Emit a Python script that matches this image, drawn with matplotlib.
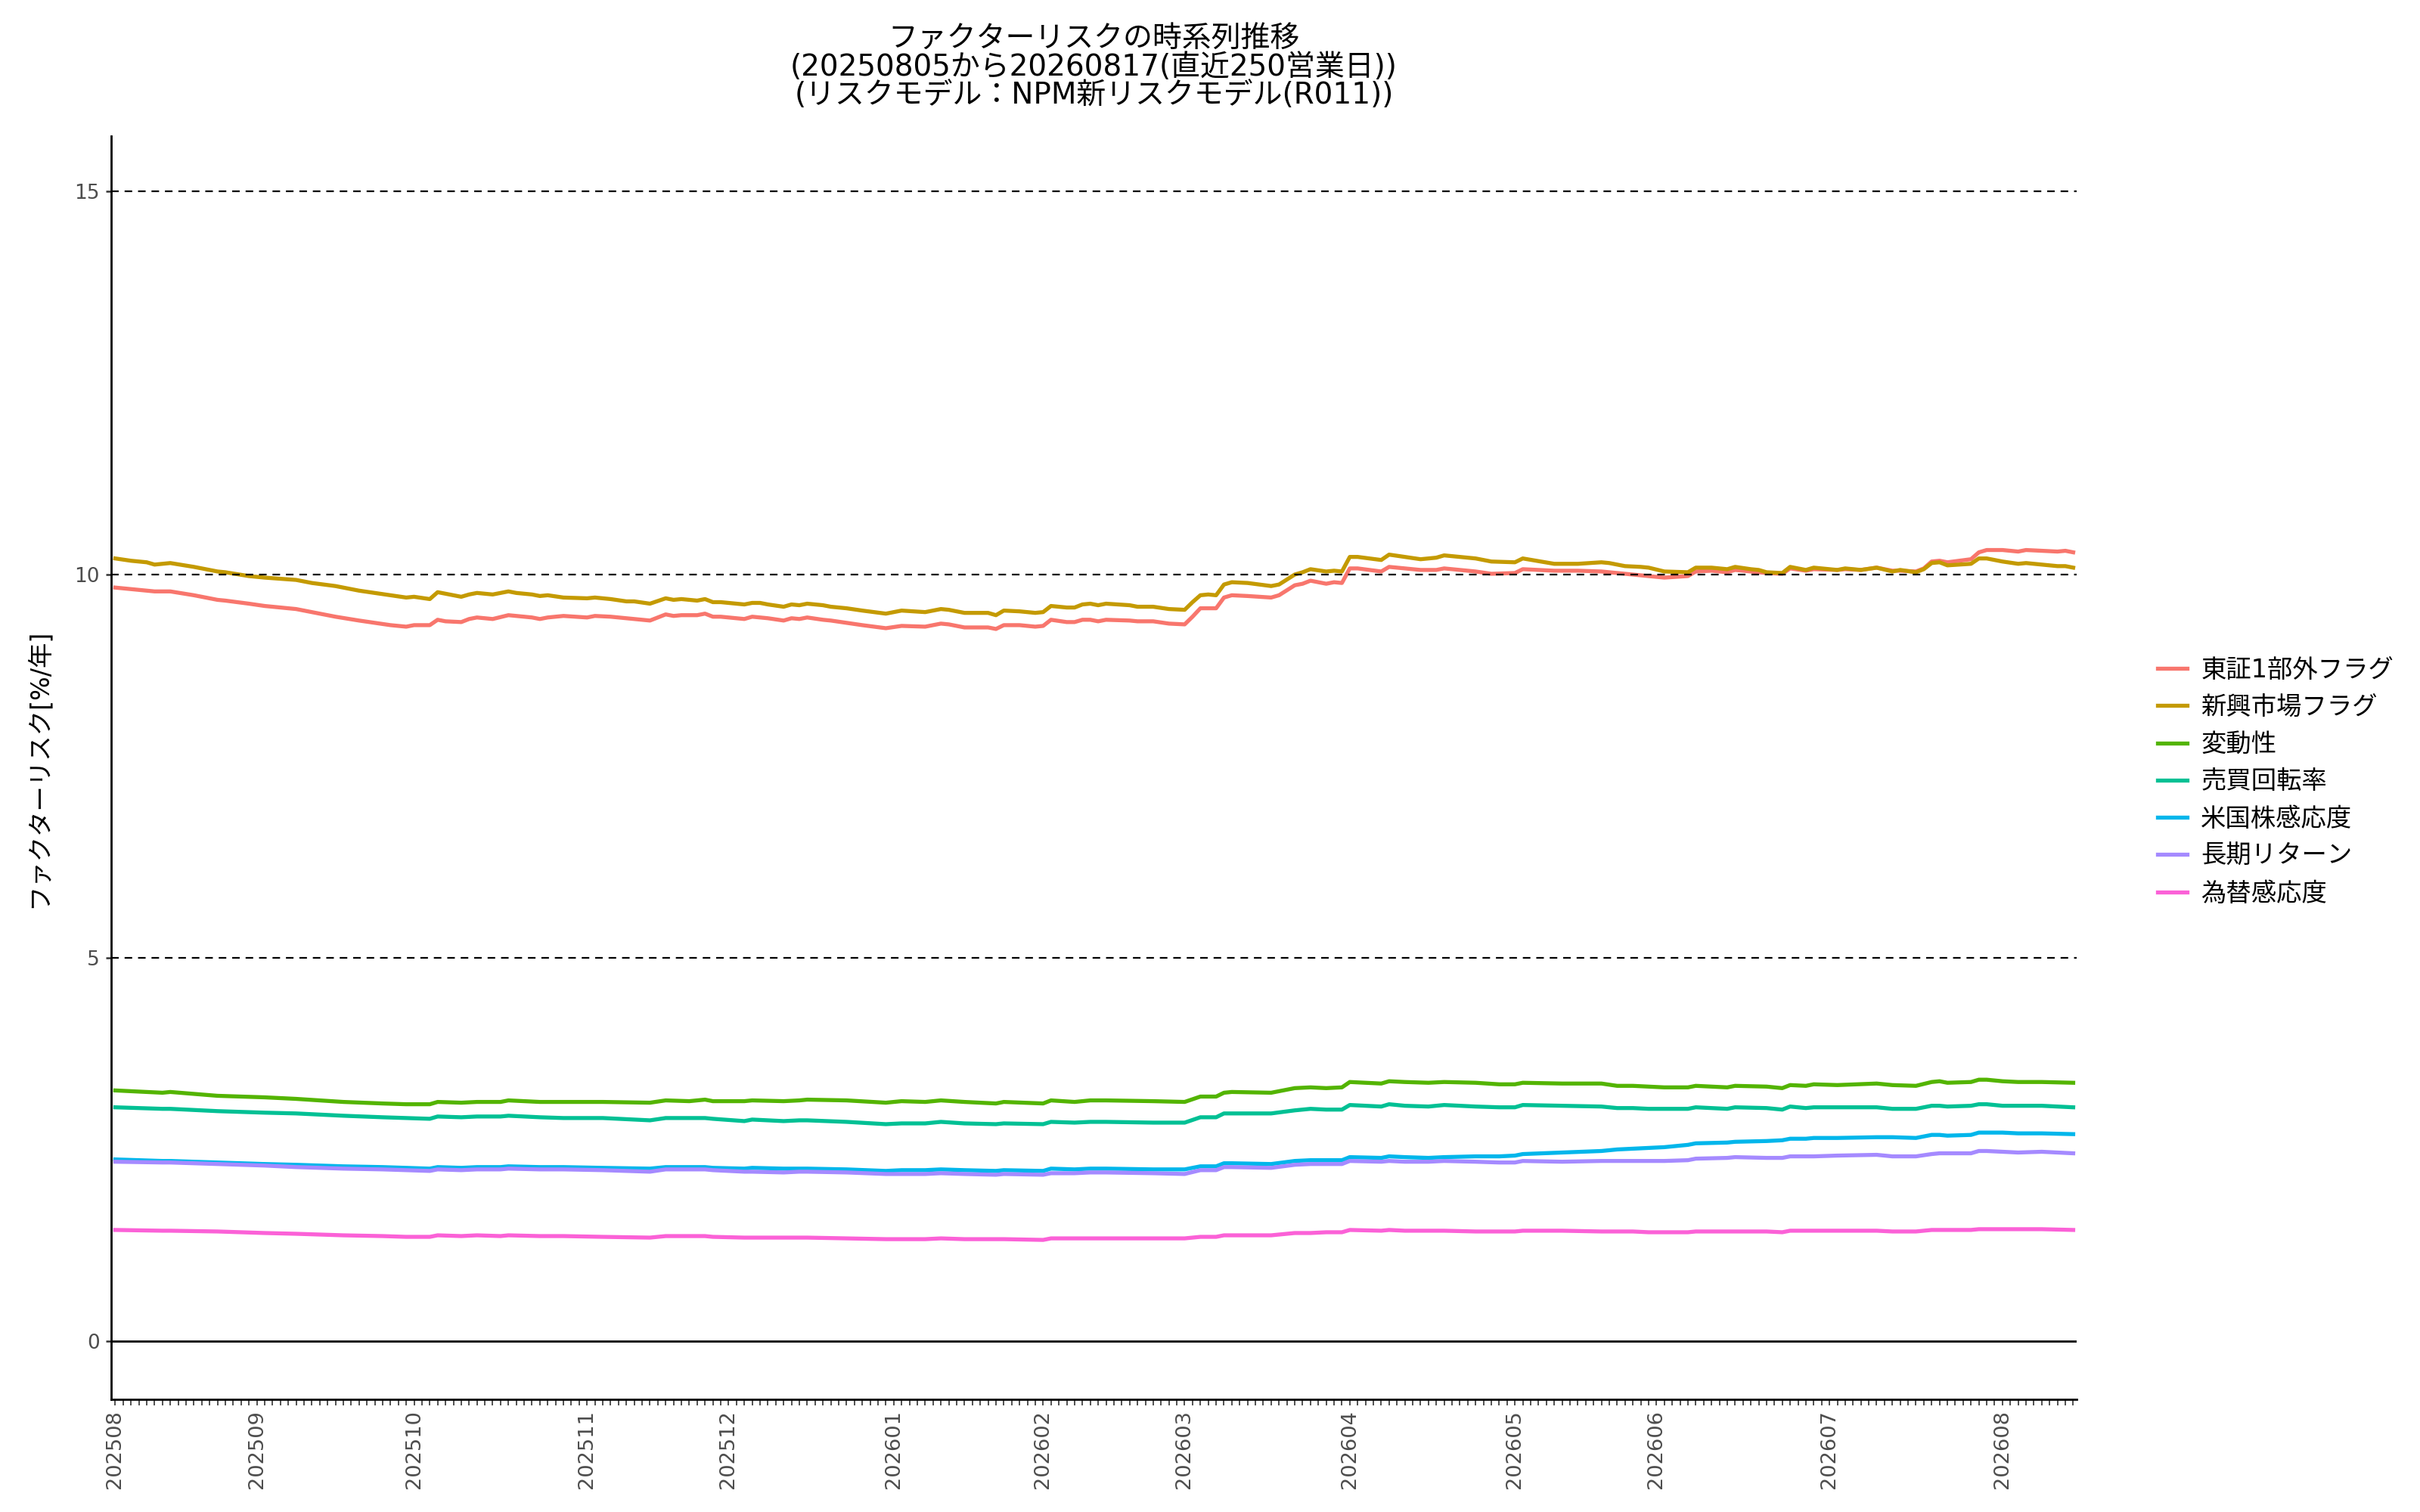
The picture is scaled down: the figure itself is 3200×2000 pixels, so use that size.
import matplotlib
matplotlib.use("Agg")
import matplotlib.pyplot as plt

plt.rcParams['font.family'] = ['DejaVu Sans', 'Noto Sans CJK JP']

# x axis = business day number (250 days), labels at first day of each month
n_days = 250
month_labels = ["202508", "202509", "202510", "202511", "202512", "202601", "202602",
                "202603", "202604", "202605", "202606", "202607", "202608"]
month_start = [0, 18, 38, 60, 78, 99, 118, 136, 157, 178, 196, 218, 240]

names = ["東証1部外フラグ", "新興市場フラグ", "変動性", "売買回転率",
         "米国株感応度", "長期リターン", "為替感応度"]
colors = ["#F8766D", "#C49A00", "#53B400", "#00C094", "#00B6EB", "#A58AFF", "#FB61D7"]

# upper two series
top_idx = [0, 2, 4, 5, 7, 10, 13, 14, 17, 19,
           23, 25, 28, 31, 33, 35, 37, 38, 40, 41,
           42, 44, 45, 46, 48, 50, 51, 53, 54, 55,
           57, 60, 61, 63, 65, 66, 68, 70, 71, 72,
           74, 75, 76, 77, 80, 81, 82, 83, 85, 86,
           87, 88, 90, 91, 93, 95, 98, 100, 103, 105,
           106, 108, 111, 112, 113, 115, 117, 118, 119, 121,
           122, 123, 124, 125, 126, 129, 130, 132, 134, 136,
           137, 138, 139, 140, 141, 142, 144, 147, 148, 150,
           151, 152, 154, 155, 156, 157, 158, 161, 162, 164,
           166, 168, 169, 173, 175, 178, 179, 183, 186, 189,
           190, 192, 194, 195, 197, 200, 201, 203, 205, 206,
           208, 209, 210, 212, 213, 215, 216, 219, 220, 222,
           224, 226, 227, 229, 230, 231, 232, 233, 236, 237,
           238, 240, 242, 243, 245, 247, 248, 249]
tosho_gai = [9.83, 9.81, 9.79, 9.78, 9.78, 9.73, 9.67, 9.66, 9.62, 9.59,
             9.55, 9.51, 9.45, 9.40, 9.37, 9.34, 9.32, 9.34, 9.34, 9.41,
             9.39, 9.38, 9.42, 9.44, 9.42, 9.47, 9.46, 9.44, 9.42, 9.44,
             9.46, 9.44, 9.46, 9.45, 9.43, 9.42, 9.40, 9.48, 9.46, 9.47,
             9.47, 9.49, 9.45, 9.45, 9.42, 9.45, 9.44, 9.43, 9.40, 9.43,
             9.42, 9.44, 9.41, 9.40, 9.37, 9.34, 9.30, 9.33, 9.32, 9.36,
             9.35, 9.31, 9.31, 9.29, 9.34, 9.34, 9.32, 9.33, 9.41, 9.38,
             9.38, 9.41, 9.41, 9.39, 9.41, 9.40, 9.39, 9.39, 9.36, 9.35,
             9.45, 9.56, 9.56, 9.56, 9.70, 9.73, 9.72, 9.70, 9.73, 9.86,
             9.88, 9.92, 9.88, 9.90, 9.89, 10.08, 10.08, 10.04, 10.10, 10.08,
             10.06, 10.06, 10.08, 10.04, 10.01, 10.02, 10.07, 10.05, 10.05, 10.04,
             10.03, 10.01, 9.99, 9.98, 9.96, 9.98, 10.04, 10.05, 10.03, 10.06,
             10.04, 10.03, 10.02, 10.01, 10.08, 10.05, 10.07, 10.06, 10.07, 10.06,
             10.09, 10.05, 10.05, 10.04, 10.08, 10.17, 10.18, 10.16, 10.20, 10.29,
             10.32, 10.32, 10.30, 10.32, 10.31, 10.30, 10.31, 10.29]
shinko = [10.21, 10.18, 10.16, 10.13, 10.15, 10.10, 10.04, 10.03, 9.98, 9.96,
          9.93, 9.89, 9.85, 9.79, 9.76, 9.73, 9.70, 9.71, 9.68, 9.77,
          9.75, 9.71, 9.74, 9.76, 9.74, 9.78, 9.76, 9.74, 9.72, 9.73,
          9.70, 9.69, 9.70, 9.68, 9.65, 9.65, 9.62, 9.69, 9.67, 9.68,
          9.66, 9.68, 9.64, 9.64, 9.61, 9.63, 9.63, 9.61, 9.58, 9.61,
          9.60, 9.62, 9.60, 9.58, 9.56, 9.53, 9.49, 9.53, 9.51, 9.55,
          9.54, 9.50, 9.50, 9.47, 9.53, 9.52, 9.50, 9.51, 9.59, 9.57,
          9.57, 9.61, 9.62, 9.60, 9.62, 9.60, 9.58, 9.58, 9.55, 9.54,
          9.64, 9.73, 9.74, 9.73, 9.87, 9.90, 9.89, 9.85, 9.87, 10.00,
          10.03, 10.07, 10.04, 10.05, 10.04, 10.23, 10.23, 10.19, 10.26, 10.23,
          10.20, 10.22, 10.25, 10.21, 10.17, 10.16, 10.21, 10.14, 10.14, 10.16,
          10.15, 10.11, 10.10, 10.09, 10.04, 10.03, 10.09, 10.09, 10.07, 10.10,
          10.07, 10.06, 10.03, 10.02, 10.10, 10.06, 10.09, 10.06, 10.08, 10.06,
          10.09, 10.04, 10.06, 10.03, 10.07, 10.15, 10.16, 10.12, 10.14, 10.21,
          10.21, 10.17, 10.14, 10.15, 10.13, 10.11, 10.11, 10.09]

# lower five series
low_idx = [0, 6, 7, 13, 19, 23, 29, 34, 37, 40,
           41, 44, 46, 49, 50, 54, 57, 62, 68, 70,
           73, 75, 76, 80, 81, 85, 87, 88, 93, 98,
           100, 103, 105, 108, 112, 113, 118, 119, 122, 124,
           126, 132, 136, 138, 140, 141, 142, 147, 150, 152,
           154, 156, 157, 161, 162, 164, 167, 169, 173, 176,
           178, 179, 184, 189, 191, 193, 195, 197, 200, 201,
           205, 206, 210, 212, 213, 215, 216, 219, 224, 226,
           229, 231, 232, 233, 236, 237, 238, 240, 242, 245,
           249]
hendo = [3.27, 3.24, 3.25, 3.20, 3.18, 3.16, 3.12, 3.10, 3.09, 3.09,
         3.12, 3.11, 3.12, 3.12, 3.14, 3.12, 3.12, 3.12, 3.11, 3.14,
         3.13, 3.15, 3.13, 3.13, 3.14, 3.13, 3.14, 3.15, 3.14, 3.11,
         3.13, 3.12, 3.14, 3.12, 3.10, 3.12, 3.10, 3.14, 3.12, 3.14,
         3.14, 3.13, 3.12, 3.19, 3.19, 3.24, 3.25, 3.24, 3.30, 3.31,
         3.30, 3.31, 3.38, 3.36, 3.39, 3.38, 3.37, 3.38, 3.37, 3.35,
         3.35, 3.37, 3.36, 3.36, 3.33, 3.33, 3.32, 3.31, 3.31, 3.33,
         3.31, 3.33, 3.32, 3.30, 3.34, 3.33, 3.35, 3.34, 3.36, 3.34,
         3.33, 3.38, 3.39, 3.37, 3.38, 3.41, 3.41, 3.39, 3.38, 3.38,
         3.37]
baibai = [3.05, 3.03, 3.03, 3.00, 2.98, 2.97, 2.94, 2.92, 2.91, 2.90,
          2.93, 2.92, 2.93, 2.93, 2.94, 2.92, 2.91, 2.91, 2.88, 2.91,
          2.91, 2.91, 2.90, 2.87, 2.89, 2.87, 2.88, 2.88, 2.86, 2.83,
          2.84, 2.84, 2.86, 2.84, 2.83, 2.84, 2.83, 2.86, 2.85, 2.86,
          2.86, 2.85, 2.85, 2.92, 2.92, 2.97, 2.97, 2.97, 3.01, 3.03,
          3.02, 3.02, 3.08, 3.06, 3.09, 3.07, 3.06, 3.08, 3.06, 3.05,
          3.05, 3.08, 3.07, 3.06, 3.04, 3.04, 3.03, 3.03, 3.03, 3.05,
          3.03, 3.05, 3.04, 3.02, 3.06, 3.04, 3.05, 3.05, 3.05, 3.03,
          3.03, 3.07, 3.07, 3.06, 3.07, 3.09, 3.09, 3.07, 3.07, 3.07,
          3.05]
beikoku = [2.37, 2.35, 2.35, 2.33, 2.31, 2.30, 2.28, 2.27, 2.26, 2.25,
           2.27, 2.26, 2.27, 2.27, 2.28, 2.27, 2.27, 2.26, 2.25, 2.27,
           2.27, 2.27, 2.26, 2.25, 2.26, 2.25, 2.25, 2.25, 2.24, 2.22,
           2.23, 2.23, 2.24, 2.23, 2.22, 2.23, 2.22, 2.25, 2.24, 2.25,
           2.25, 2.24, 2.24, 2.28, 2.28, 2.32, 2.32, 2.31, 2.35, 2.36,
           2.36, 2.36, 2.40, 2.39, 2.41, 2.40, 2.39, 2.40, 2.41, 2.41,
           2.42, 2.44, 2.46, 2.48, 2.50, 2.51, 2.52, 2.53, 2.56, 2.58,
           2.59, 2.60, 2.61, 2.62, 2.64, 2.64, 2.65, 2.65, 2.66, 2.66,
           2.65, 2.69, 2.69, 2.68, 2.69, 2.72, 2.72, 2.72, 2.71, 2.71,
           2.70]
choki = [2.34, 2.33, 2.33, 2.31, 2.29, 2.27, 2.25, 2.24, 2.23, 2.22,
         2.24, 2.23, 2.24, 2.24, 2.25, 2.24, 2.24, 2.23, 2.21, 2.24,
         2.24, 2.24, 2.23, 2.21, 2.21, 2.20, 2.21, 2.21, 2.20, 2.18,
         2.18, 2.18, 2.19, 2.18, 2.17, 2.18, 2.17, 2.19, 2.19, 2.20,
         2.20, 2.19, 2.18, 2.23, 2.23, 2.27, 2.27, 2.26, 2.30, 2.31,
         2.31, 2.31, 2.35, 2.34, 2.35, 2.34, 2.34, 2.35, 2.34, 2.33,
         2.33, 2.35, 2.34, 2.35, 2.35, 2.35, 2.35, 2.35, 2.36, 2.38,
         2.39, 2.40, 2.39, 2.39, 2.41, 2.41, 2.41, 2.42, 2.43, 2.41,
         2.41, 2.44, 2.45, 2.45, 2.45, 2.48, 2.48, 2.47, 2.46, 2.47,
         2.45]
kawase = [1.45, 1.44, 1.44, 1.43, 1.41, 1.40, 1.38, 1.37, 1.36, 1.36,
          1.38, 1.37, 1.38, 1.37, 1.38, 1.37, 1.37, 1.36, 1.35, 1.37,
          1.37, 1.37, 1.36, 1.35, 1.35, 1.35, 1.35, 1.35, 1.34, 1.33,
          1.33, 1.33, 1.34, 1.33, 1.33, 1.33, 1.32, 1.34, 1.34, 1.34,
          1.34, 1.34, 1.34, 1.36, 1.36, 1.38, 1.38, 1.38, 1.41, 1.41,
          1.42, 1.42, 1.45, 1.44, 1.45, 1.44, 1.44, 1.44, 1.43, 1.43,
          1.43, 1.44, 1.44, 1.43, 1.43, 1.43, 1.42, 1.42, 1.42, 1.43,
          1.43, 1.43, 1.43, 1.42, 1.44, 1.44, 1.44, 1.44, 1.44, 1.43,
          1.43, 1.45, 1.45, 1.45, 1.45, 1.46, 1.46, 1.46, 1.46, 1.46,
          1.45]

series = [(top_idx, tosho_gai), (top_idx, shinko), (low_idx, hendo), (low_idx, baibai),
          (low_idx, beikoku), (low_idx, choki), (low_idx, kawase)]

title_lines = ["ファクターリスクの時系列推移",
               "(20250805から20260817(直近250営業日))",
               "(リスクモデル：NPM新リスクモデル(R011))"]

fig = plt.figure(figsize=(16, 10), dpi=200)
ax = fig.add_axes([0.046, 0.0745, 0.812, 0.8355])

for (xs, ys), name, col in zip(series, names, colors):
    ax.plot(xs, ys, color=col, lw=1.9, label=name, solid_joinstyle='round')

for yv in [5, 10, 15]:
    ax.axhline(yv, color='black', lw=0.8, dashes=(4.5, 3.5), zorder=5)
ax.axhline(0, color='black', lw=1.0, zorder=5)

ax.set_xlim(-0.5, 249.4)
ax.set_ylim(-0.76, 15.72)

xlabels = [""] * n_days
for pos, lab in zip(month_start, month_labels):
    xlabels[pos] = lab
ax.set_xticks(range(n_days))
ax.set_xticklabels(xlabels, rotation=90, fontsize=9.8, color='#4D4D4D')
ax.set_yticks([0, 5, 10, 15])
ax.set_yticklabels(["0", "5", "10", "15"], fontsize=9.5, color='#4D4D4D')
ax.tick_params(axis='x', length=3, width=0.6, color='#333333', pad=2)
ax.tick_params(axis='y', length=2.6, width=0.9, color='#333333', pad=3)

for side in ['top', 'right']:
    ax.spines[side].set_visible(False)
for side in ['left', 'bottom']:
    ax.spines[side].set_linewidth(1.0)
    ax.spines[side].set_color('black')

fig.text(0.016, 0.492, "ファクターリスク[%/年]", rotation=90, ha='center', va='center', fontsize=12)

for txt, yy in zip(title_lines, [0.9748, 0.9553, 0.9368]):
    fig.text(0.452, yy, txt, ha='center', va='center', fontsize=14)

fig.legend(loc='center left', bbox_to_anchor=(0.8865, 0.483), frameon=False,
           fontsize=12, handlelength=1.15, handletextpad=0.55, labelspacing=0.49,
           borderpad=0)

fig.savefig("out.png", dpi=200)
